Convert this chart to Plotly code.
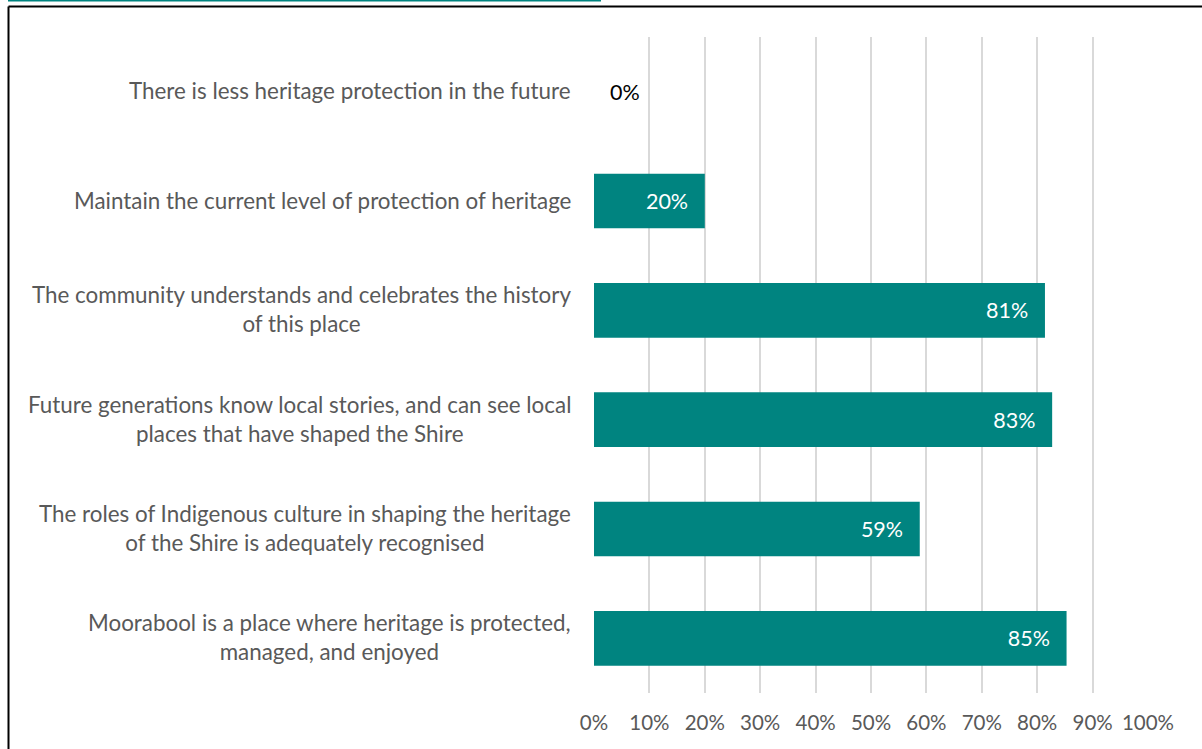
import plotly.graph_objects as go

categories = [
    "There is less heritage protection in the future",
    "Maintain the current level of protection of heritage",
    "The community understands and celebrates the history<br>of this place",
    "Future generations know local stories, and can see local<br>places that have shaped the Shire",
    "The roles of Indigenous culture in shaping the heritage<br>of the Shire is adequately recognised",
    "Moorabool is a place where heritage is protected,<br>managed, and enjoyed",
]
values = [0, 20, 81.4, 82.7, 58.8, 85.3]
tick_vals = [0, 10, 20, 30, 40, 50, 60, 70, 80, 90, 100]
tick_text = [f"{t}%" for t in tick_vals]

FONT = "Lato"
TEAL = "#008480"
GREY = "#595959"
CAT_SIZE = 22.4
VAL_SIZE = 21.5
TICK_SIZE = 20.5

texts = [(f"{v:.0f}%" + "\u00a0\u00a0\u2009") if v > 0 else "" for v in values]

fig = go.Figure(go.Bar(
    x=values, y=categories, orientation="h",
    marker=dict(color=TEAL, line=dict(width=0)),
    text=texts, texttemplate="%{text}",
    textposition="inside", insidetextanchor="end",
    insidetextfont=dict(color="white", size=VAL_SIZE, family=FONT),
    cliponaxis=False,
    hoverinfo="skip",
))

W, H = 1202, 749
L, R, T, B = 594, 54, 37, 56
pw, ph = W - L - R, H - T - B

def px_x(p):
    return (p - L) / pw

def px_y(p):
    return (H - B - p) / ph

annotations = []
for c in categories:
    annotations.append(dict(
        x=0, xref="paper", y=c, yref="y", text=c, showarrow=False,
        xanchor="right", align="center", xshift=-21, yshift=1,
        font=dict(family=FONT, size=CAT_SIZE, color=GREY),
    ))
# labels for zero-length bars, placed just beyond the bar end
for c, v in zip(categories, values):
    if v == 0:
        annotations.append(dict(
            x=v, xref="x", y=c, yref="y", text=f"{v:.0f}%", showarrow=False,
            xanchor="left", xshift=14,
            font=dict(family=FONT, size=VAL_SIZE, color="black"),
        ))

shapes = [
    dict(type="line", xref="paper", yref="paper", x0=px_x(8.5), x1=px_x(1210),
         y0=px_y(6.5), y1=px_y(6.5), line=dict(color="black", width=2)),
    dict(type="line", xref="paper", yref="paper", x0=px_x(8.5), x1=px_x(8.5),
         y0=px_y(6.5), y1=px_y(760), line=dict(color="black", width=2)),
    dict(type="line", xref="paper", yref="paper", x0=px_x(8), x1=px_x(601),
         y0=px_y(0.5), y1=px_y(0.5), line=dict(color=TEAL, width=2)),
]

fig.update_layout(
    width=W, height=H,
    margin=dict(l=L, r=R, t=T, b=B),
    paper_bgcolor="white", plot_bgcolor="white",
    showlegend=False, bargap=0.5,
    font=dict(family=FONT, size=VAL_SIZE, color=GREY),
    xaxis=dict(range=[0, 100], tickvals=tick_vals, ticktext=tick_text,
               showgrid=True, gridcolor="#d9d9d9", gridwidth=1.5,
               zeroline=False, showline=False, ticks="",
               tickfont=dict(family=FONT, size=TICK_SIZE, color=GREY),
               ticklabelstandoff=15, fixedrange=True),
    yaxis=dict(autorange="reversed", showticklabels=False, showgrid=False,
               zeroline=False, showline=False, ticks="", fixedrange=True),
    annotations=annotations,
    shapes=shapes,
)

fig.write_html("out.html")
